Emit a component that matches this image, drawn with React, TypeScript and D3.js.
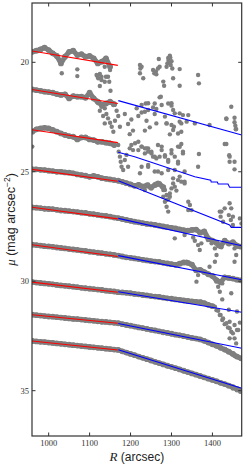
import React from "react";
import * as d3 from "d3";

const svgWidth = 245;
const svgHeight = 467;
const plot = { left: 32, right: 241.7, top: 3, bottom: 436 };

const xDomain = [959.3, 1471.5];
const yDomain = [17.29, 37.07];
const xTicks = [1000, 1100, 1200, 1300, 1400];
const yTicks = [20, 25, 30, 35];

// dense profile samples: mu every 10 arcsec starting at R = 960
const coreStartR = 960;
const coreStepR = 10;

const p1Core = [19.52, 19.47, 19.41, 19.33, 19.44, 19.59, 19.71, 20.05, 19.74, 19.52, 19.47, 19.67, 19.63, 19.74, 19.71, 19.82, 20.05, 19.97, 19.82, 20.2];
const p2Core = [21.24, 21.27, 21.3, 21.34, 21.36, 21.39, 21.45, 21.49, 21.46, 21.65, 21.54, 21.57, 21.57, 21.62, 21.39, 21.65, 21.8, 21.95, 21.88, 21.8, 21.91];
const p3Core = [23.17, 23.06, 23.02, 22.99, 23.02, 23.09, 23.17, 23.25, 23.32, 23.37, 23.4, 23.52, 23.43, 23.43, 23.52, 23.55, 23.63, 23.63, 23.67, 23.7, 23.78];
const p4Core = [24.89, 24.89, 24.91, 24.92, 24.95, 24.97, 25.0, 25.0, 25.03, 25.04, 25.07, 25.12, 25.15, 25.18, 25.23, 25.19, 25.23, 25.29, 25.32, 25.35, 25.38, 25.41, 25.46, 25.52, 25.58, 25.64, 25.6, 25.68, 25.62, 25.72, 25.6, 25.55, 25.7];
const p5Core = [26.63, 26.64, 26.66, 26.69, 26.7, 26.71, 26.74, 26.77, 26.78, 26.8, 26.82, 26.84, 26.87, 26.88, 26.92, 26.94, 26.97, 27.0, 27.02, 27.05, 27.09, 27.12, 27.16, 27.2, 27.24, 27.28, 27.31, 27.35, 27.38, 27.4, 27.43, 27.46, 27.5, 27.53, 27.56, 27.59, 27.63, 27.67, 27.69, 27.66, 27.64, 27.78, 27.72, 28.05, 28.15, 28.25, 28.4, 28.15, 28.28, 28.22, 28.38, 28.42];
const p6Core = [28.33, 28.35, 28.37, 28.4, 28.41, 28.43, 28.46, 28.48, 28.5, 28.53, 28.55, 28.57, 28.6, 28.62, 28.65, 28.67, 28.7, 28.72, 28.75, 28.77, 28.8, 28.83, 28.87, 28.91, 28.93, 28.96, 28.99, 29.02, 29.05, 29.08, 29.1, 29.12, 29.16, 29.19, 29.22, 29.25, 29.2, 29.14, 29.16, 29.24, 29.5, 29.48, 29.58, 29.68, 29.76, 29.95, 30.05, 29.82, 29.85, 29.88, 29.93, 29.96];
const p7Core = [30.04, 30.06, 30.08, 30.1, 30.12, 30.14, 30.17, 30.19, 30.21, 30.23, 30.25, 30.27, 30.3, 30.32, 30.34, 30.36, 30.38, 30.4, 30.43, 30.45, 30.47, 30.5, 30.51, 30.53, 30.55, 30.58, 30.6, 30.63, 30.65, 30.68, 30.7, 30.72, 30.75, 30.78, 30.8, 30.83, 30.85, 30.88, 30.9, 30.92, 30.94, 30.96, 31.0, 31.08, 31.14];
const p8Core = [31.53, 31.55, 31.57, 31.59, 31.61, 31.62, 31.64, 31.66, 31.68, 31.7, 31.72, 31.73, 31.75, 31.77, 31.79, 31.81, 31.83, 31.85, 31.86, 31.88, 31.9, 31.92, 31.96, 32.0, 32.03, 32.07, 32.11, 32.14, 32.18, 32.22, 32.25, 32.29, 32.33, 32.36, 32.4, 32.44, 32.47, 32.51, 32.55, 32.59, 32.62, 32.66, 32.72, 32.8, 32.88, 32.95, 33.04, 33.12, 33.22, 33.32, 33.44, 33.52];
const p9Core = [32.73, 32.75, 32.77, 32.78, 32.8, 32.82, 32.84, 32.86, 32.88, 32.9, 32.92, 32.94, 32.96, 32.98, 33.0, 33.02, 33.04, 33.06, 33.08, 33.1, 33.12, 33.14, 33.2, 33.26, 33.32, 33.38, 33.44, 33.5, 33.56, 33.62, 33.68, 33.74, 33.8, 33.86, 33.91, 33.97, 34.03, 34.09, 34.15, 34.21, 34.27, 34.33, 34.39, 34.45, 34.51, 34.57, 34.64, 34.7, 34.77, 34.84, 34.92, 35.0];

// loose points [R, mu]
const p1Scatter = [
  [1032, 20.5], [1070, 20.32], [1070, 20.63], [1117, 20.58], [1121, 20.73], [1129, 20.66], [1137, 20.89], [1145, 20.66],
  [1119, 20.63], [1125, 20.53], [1129, 20.81], [1140, 20.66], [1150, 20.35], [1125, 21.08], [1148, 20.89], [1151, 21.3],
  [1137, 20.2], [1117, 19.97], [1223, 20.12], [1224, 20.28], [1223, 20.5], [1231, 20.73], [1227, 20.2], [1255, 20.35],
  [1258, 20.5], [1263, 20.55], [1262, 20.42], [1267, 20.28], [1271, 20.2], [1269, 19.85], [1280, 20.88], [1282, 21.07],
  [1288, 20.2], [1290, 20.05], [1292, 19.8], [1293, 19.9], [1295, 20.0], [1296, 19.7], [1297, 19.78], [1300, 19.95],
  [1298, 20.12], [1302, 20.28], [1304, 20.73], [1320, 20.31], [1320, 21.07], [1365, 20.58], [1367, 20.96],
];
const p2Scatter = [
  [1121, 21.87], [1129, 22.03], [1125, 22.21], [1137, 22.1], [1141, 22.36], [1145, 22.56], [1150, 22.76], [1154, 22.94],
  [1158, 23.17], [1162, 22.67], [1166, 22.21], [1170, 22.45], [1174, 22.94], [1158, 21.95], [1133, 22.45], [1137, 22.79],
  [1186, 22.36], [1194, 22.82], [1202, 22.61], [1206, 23.12], [1198, 23.28], [1215, 22.1], [1219, 22.45], [1227, 21.95],
  [1235, 22.26], [1239, 22.67], [1235, 23.12], [1243, 21.87], [1247, 22.97], [1255, 22.06], [1259, 22.36], [1263, 22.79],
  [1271, 21.6], [1276, 21.95], [1284, 22.48], [1288, 22.79], [1300, 21.87], [1304, 23.09], [1308, 22.33], [1320, 22.71],
  [1316, 23.25], [1274, 21.57], [1237, 21.88], [1259, 21.88], [1292, 21.88], [1300, 21.98], [1263, 22.13], [1243, 22.18],
  [1227, 22.29], [1304, 22.18], [1320, 22.33], [1328, 22.41], [1341, 22.41], [1337, 22.71], [1324, 22.79], [1300, 22.86],
  [1288, 22.79], [1306, 22.94], [1324, 23.17], [1296, 23.29], [1357, 22.79], [1393, 22.86], [1434, 22.59], [1446, 22.03],
  [1454, 22.53], [1454, 22.74], [1456, 22.9], [1458, 23.05], [1434, 22.56], [1457, 23.06],
];
const p3Scatter = [
  [960, 23.85], [1170, 23.78], [1171, 24.08], [1174, 24.31], [1176, 24.54], [1178, 24.77], [1182, 24.92], [1186, 24.46],
  [1190, 24.23], [1194, 24.77], [1198, 23.93], [1202, 23.78], [1211, 23.7], [1219, 23.63], [1227, 23.85], [1235, 23.93],
  [1243, 24.08], [1251, 24.16], [1255, 24.31], [1263, 24.39], [1276, 23.85], [1284, 24.31], [1292, 24.54], [1300, 24.16],
  [1316, 24.54], [1243, 24.77], [1223, 25.07], [1267, 24.99], [1308, 24.92], [1320, 25.22], [1219, 24.01], [1227, 23.85],
  [1235, 24.16], [1243, 23.93], [1251, 24.08], [1259, 24.31], [1267, 23.78], [1276, 24.01], [1284, 24.24], [1292, 24.46],
  [1300, 24.01], [1308, 24.31], [1316, 23.85], [1324, 23.73], [1328, 24.08], [1316, 24.62], [1332, 24.99], [1292, 24.92],
  [1276, 25.07], [1259, 24.99], [1243, 24.69], [1227, 24.77], [1304, 25.3], [1332, 25.45], [1430, 23.73], [1442, 24.31],
  [1442, 24.54], [1454, 24.54], [1454, 24.89], [1365, 24.77], [1206, 24.01], [1239, 23.93], [1271, 24.31], [1320, 23.86],
  [1328, 24.16], [1367, 24.19], [1434, 23.73], [1441, 24.24],
];
const p4Scatter = [
  [1219, 25.58], [1235, 25.83], [1243, 25.58], [1251, 25.76], [1259, 25.61], [1267, 25.5], [1276, 25.68], [1284, 25.83],
  [1288, 26.06], [1292, 26.26], [1296, 25.99], [1300, 25.76], [1304, 25.53], [1308, 25.68], [1312, 25.86], [1284, 26.37],
  [1288, 26.6], [1292, 26.82], [1280, 26.14], [1341, 26.37], [1345, 26.52], [1341, 26.75], [1418, 26.82], [1420, 27.05],
  [1426, 27.28], [1430, 26.67], [1442, 26.44], [1446, 26.67], [1440, 26.98], [1445, 27.2], [1450, 27.43], [1263, 25.53],
  [1280, 25.83], [1288, 26.29], [1296, 26.14], [1316, 25.38], [1324, 25.45], [1332, 25.53], [1349, 26.75], [1422, 26.82],
  [1450, 27.05], [1467, 27.13], [1471, 27.36],
];
const p5Scatter = [
  [1308, 28.04], [1332, 27.89], [1353, 28.0], [1357, 28.15], [1365, 28.35], [1369, 28.57], [1373, 28.27], [1406, 28.5],
  [1414, 28.39], [1410, 28.8], [1454, 28.5], [1458, 28.8], [1454, 29.11], [1385, 27.97], [1389, 28.12], [1398, 28.27],
  [1422, 28.45], [1442, 28.3], [1463, 28.42], [1430, 28.12],
];
const p6Scatter = [
  [1361, 29.52], [1365, 29.72], [1361, 30.02], [1373, 29.49], [1385, 29.61], [1410, 30.02], [1414, 30.25], [1418, 30.48],
  [1424, 30.1], [1406, 29.11], [1393, 29.34], [1337, 29.11], [1324, 29.18],
];
const p7Scatter = [
  [1357, 30.94], [1373, 30.94], [1389, 31.09], [1406, 31.16], [1414, 31.35], [1420, 31.54], [1424, 31.77], [1430, 31.96],
  [1438, 32.11], [1446, 32.31], [1442, 31.85], [1454, 32.61], [1458, 32.84], [1424, 30.83], [1446, 30.55], [1463, 32.23],
  [1410, 31.32], [1418, 31.54], [1426, 31.7], [1434, 31.92], [1442, 32.15], [1450, 32.38], [1454, 32.0], [1460, 32.23],
  [1467, 31.89], [1442, 32.61], [1440, 31.3], [1460, 31.38],
];
const p8Scatter = [[1402, 32.88], [1418, 32.99], [1434, 33.14], [1446, 33.3], [1454, 33.42], [1463, 33.48], [1468, 33.52], [1442, 33.22]];
const p9Scatter = [[1450, 34.9], [1460, 34.98], [1468, 35.05]];

// inner (red) fits over R = 959.3 .. 1169
const redR = [959.3, 1169];
const redStartMu = [19.48, 21.24, 23.08, 24.89, 26.62, 28.33, 30.04, 31.53, 32.73];
const redEndMu = [20.14, 21.88, 23.67, 25.43, 27.15, 28.87, 30.5, 31.92, 33.14];

// outer (blue) fits [R, mu]
const p2Blue = [[1170, 21.75], [1471.5, 23.32]];
const p3Blue = [[1170, 24.11], [1210, 24.31], [1357, 25.23], [1396, 25.38], [1397, 25.47], [1412, 25.47], [1414, 25.56], [1438, 25.56], [1442, 25.71], [1471.5, 25.71]];
const p4Blue = [[1170, 25.41], [1442, 27.43], [1446, 27.54], [1471.5, 27.54]];
const p5Blue = [[1170, 27.13], [1471.5, 28.38]];
const p6Blue = [[1170, 28.83], [1471.5, 29.93]];
const p7Blue = [[1170, 30.48], [1471.5, 31.42]];
const p8Blue = [[1170, 31.93], [1471.5, 33.06]];
const p9Blue = [[1170, 33.13], [1471.5, 34.89]];

const cores = [p1Core, p2Core, p3Core, p4Core, p5Core, p6Core, p7Core, p8Core, p9Core];
const scatters = [p1Scatter, p2Scatter, p3Scatter, p4Scatter, p5Scatter, p6Scatter, p7Scatter, p8Scatter, p9Scatter];
const blues = [p2Blue, p3Blue, p4Blue, p5Blue, p6Blue, p7Blue, p8Blue, p9Blue];

const dotColor = "#7f7f7f";
const frameColor = "#333";

export default function App() {
  const x = d3.scaleLinear().domain(xDomain).range([plot.left, plot.right]);
  const y = d3.scaleLinear().domain(yDomain).range([plot.top, plot.bottom]);
  const line = d3
    .line<number[]>()
    .x((d) => x(d[0]))
    .y((d) => y(d[1]));

  const corePoints = cores.map((arr) => arr.map((mu, i) => [coreStartR + i * coreStepR, mu]));

  return (
    <svg
      width={svgWidth}
      height={svgHeight}
      style={{ position: "absolute", left: 0, top: 0, background: "#fff" }}
    >
      <defs>
        <clipPath id="plotClip">
          <rect x={plot.left} y={plot.top} width={plot.right - plot.left} height={plot.bottom - plot.top} />
        </clipPath>
      </defs>
      <rect x={0} y={0} width={svgWidth} height={svgHeight} fill="#fff" />

      <g clipPath="url(#plotClip)">
        {/* gray data points */}
        {corePoints.map((pts, i) => (
          <path
            key={"band" + i}
            d={line(pts) || ""}
            fill="none"
            stroke={dotColor}
            strokeWidth={5}
            strokeLinecap="round"
            strokeLinejoin="round"
          />
        ))}
        {corePoints.map((pts, i) =>
          pts.map((d, j) => <circle key={"c" + i + "-" + j} cx={x(d[0])} cy={y(d[1])} r={2.9} fill={dotColor} />)
        )}
        {scatters.map((pts, i) =>
          pts.map((d, j) => <circle key={"s" + i + "-" + j} cx={x(d[0])} cy={y(d[1])} r={2.2} fill={dotColor} />)
        )}

        {/* fits */}
        {redStartMu.map((mu, i) => (
          <path
            key={"red" + i}
            d={line([[redR[0], mu], [redR[1], redEndMu[i]]]) || ""}
            fill="none"
            stroke="#ff0000"
            strokeWidth={1.1}
          />
        ))}
        {blues.map((pts, i) => (
          <path key={"blue" + i} d={line(pts) || ""} fill="none" stroke="#0000ff" strokeWidth={1.1} />
        ))}
      </g>

      {/* frame and ticks */}
      <rect
        x={plot.left}
        y={plot.top}
        width={plot.right - plot.left}
        height={plot.bottom - plot.top}
        fill="none"
        stroke={frameColor}
        strokeWidth={1.2}
      />
      {xTicks.map((t) => (
        <g key={"xt" + t}>
          <line x1={x(t)} x2={x(t)} y1={plot.bottom} y2={plot.bottom - 3.5} stroke={frameColor} />
          <line x1={x(t)} x2={x(t)} y1={plot.top} y2={plot.top + 3.5} stroke={frameColor} />
          <text
            x={x(t)}
            y={plot.bottom + 10}
            textAnchor="middle"
            fontFamily="'Liberation Serif', serif"
            fontSize={8.5}
            fill="#333"
          >
            {t}
          </text>
        </g>
      ))}
      {yTicks.map((t) => (
        <g key={"yt" + t}>
          <line x1={plot.left} x2={plot.left + 3.5} y1={y(t)} y2={y(t)} stroke={frameColor} />
          <line x1={plot.right} x2={plot.right - 3.5} y1={y(t)} y2={y(t)} stroke={frameColor} />
          <text
            x={plot.left - 3}
            y={y(t) + 3}
            textAnchor="end"
            fontFamily="'Liberation Serif', serif"
            fontSize={8.5}
            fill="#333"
          >
            {t}
          </text>
        </g>
      ))}

      {/* axis titles */}
      <text
        x={(plot.left + plot.right) / 2}
        y={461}
        textAnchor="middle"
        fontFamily="'Liberation Sans', sans-serif"
        fontSize={12}
        fill="#222"
      >
        <tspan fontFamily="'Liberation Serif', serif" fontStyle="italic" fontSize={13}>
          R
        </tspan>
        {" (arcsec)"}
      </text>
      <text
        transform={`translate(15, ${(plot.top + plot.bottom) / 2}) rotate(-90)`}
        textAnchor="middle"
        fontFamily="'Liberation Sans', sans-serif"
        fontSize={12.5}
        fill="#222"
      >
        <tspan fontFamily="'Liberation Serif', serif" fontStyle="italic" fontSize={13}>
          μ
        </tspan>
        {" (mag arcsec"}
        <tspan fontSize={8.5} dy={-5}>
          −2
        </tspan>
        <tspan dy={5}>)</tspan>
      </text>
    </svg>
  );
}
